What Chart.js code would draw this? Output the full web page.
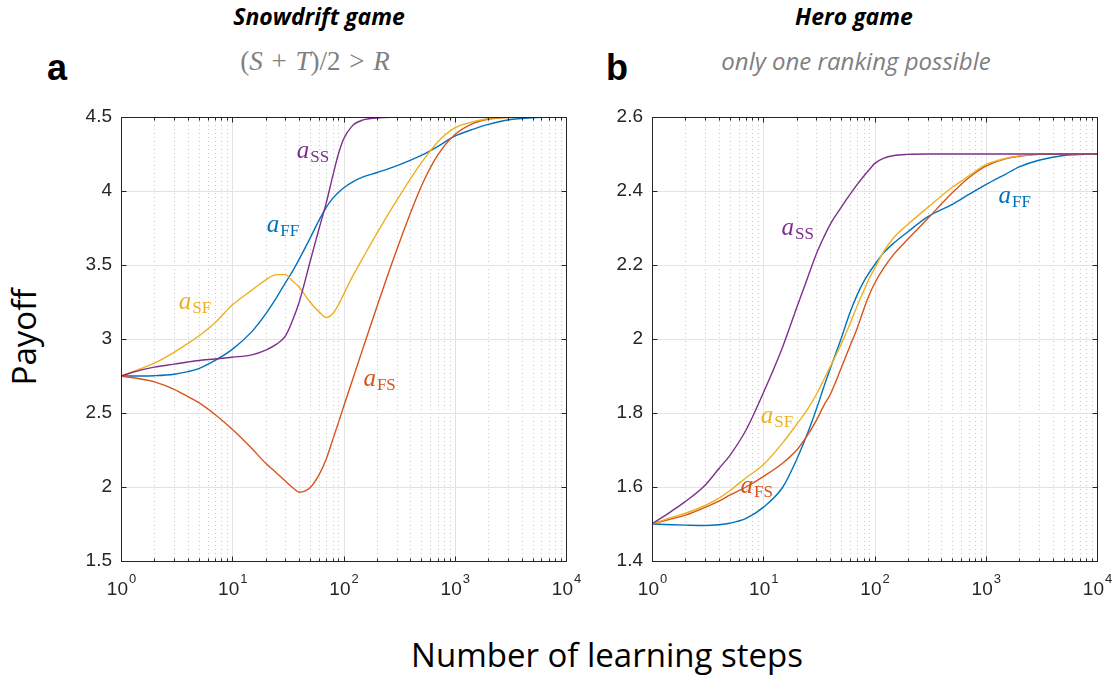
<!DOCTYPE html>
<html>
<head>
<meta charset="utf-8">
<script src="https://cdn.jsdelivr.net/npm/chart.js@4.4.1/dist/chart.umd.min.js"></script>
<style>
  html, body { margin: 0; padding: 0; background: #fff; }
  #page { position: relative; width: 1116px; height: 679px; overflow: hidden; font-family: 'Open Sans', sans-serif; }
  .panel { position: absolute; top: 95px; width: 525px; height: 525px; }
  .txt { position: absolute; white-space: nowrap; line-height: 1; }
  .title { font-weight: 700; font-style: italic; font-size: 23px; color: #000; transform: translateX(-50%); top: 5px; }
  .sub { color: #808080; transform: translateX(-50%); }
  .tag { font-family: 'Liberation Sans', Arial, sans-serif; font-weight: 700; font-size: 36px; top: 50px; color: #000; }
</style>
</head>
<body>
<div id="page">
  <div class="txt title" style="left:319px">Snowdrift game</div>
  <div class="txt title" style="left:854px">Hero game</div>
  <div class="txt sub" style="left:315px; top:48px; font-family:'Liberation Serif', serif; font-size:27px; word-spacing:2px">(<i>S</i> + <i>T</i>)/2 &gt; <i>R</i></div>
  <div class="txt sub" style="left:856px; top:49px; font-style:italic; font-size:24px">only one ranking possible</div>
  <div class="txt tag" style="left:47px">a</div>
  <div class="txt tag" style="left:606px">b</div>
  <div class="txt" style="left:23px; top:337px; font-size:33px; transform:translate(-50%,-50%) rotate(-90deg)">Payoff</div>
  <div class="txt" style="left:607px; top:638px; font-size:33px; transform:translateX(-50%)">Number of learning steps</div>
  <div class="panel" style="left:60px"><canvas id="snowChart" width="525" height="525"></canvas></div>
  <div class="panel" style="left:591px"><canvas id="heroChart" width="525" height="525"></canvas></div>
</div>

<script>
// number of learning steps (x, log scale)
const steps = [1, 1.5, 2, 3, 4, 5, 7, 10, 15, 20, 25, 30, 35, 40, 50, 60, 70, 80, 90, 100,
  120, 150, 200, 300, 500, 700, 1000, 1500, 2000, 3000, 5000, 10000];

// Snowdrift game payoffs
const snowFF = [2.75, 2.75, 2.752, 2.762, 2.78, 2.80, 2.855, 2.93, 3.05, 3.17, 3.28, 3.38, 3.46, 3.54,
  3.68, 3.80, 3.89, 3.95, 3.99, 4.02, 4.06, 4.095, 4.125, 4.17, 4.24, 4.30, 4.37, 4.42, 4.45, 4.48, 4.495, 4.5];
const snowFS = [2.75, 2.73, 2.71, 2.66, 2.61, 2.57, 2.49, 2.39, 2.26, 2.16, 2.095, 2.04, 1.995, 1.965,
  1.995, 2.08, 2.19, 2.32, 2.435, 2.54, 2.72, 2.94, 3.22, 3.6, 4.03, 4.24, 4.38, 4.46, 4.485, 4.497, 4.5, 4.5];
const snowSF = [2.75, 2.80, 2.837, 2.91, 2.97, 3.02, 3.11, 3.23, 3.33, 3.40, 3.435, 3.435, 3.39, 3.35,
  3.25, 3.185, 3.145, 3.17, 3.23, 3.30, 3.42, 3.55, 3.715, 3.935, 4.19, 4.33, 4.426, 4.47, 4.49, 4.497, 4.5, 4.5];
const snowSS = [2.75, 2.79, 2.81, 2.83, 2.845, 2.855, 2.865, 2.877, 2.893, 2.925, 2.965, 3.02, 3.13, 3.25,
  3.52, 3.74, 3.92, 4.10, 4.25, 4.35, 4.44, 4.48, 4.493, 4.498, 4.5, 4.5, 4.5, 4.5, 4.5, 4.5, 4.5, 4.5];

// Hero game payoffs
const heroFF = [1.5, 1.498, 1.497, 1.496, 1.498, 1.502, 1.515, 1.545, 1.6, 1.675, 1.745, 1.81, 1.87, 1.92,
  2.0, 2.07, 2.12, 2.155, 2.18, 2.2, 2.232, 2.26, 2.29, 2.33, 2.364, 2.39, 2.417, 2.445, 2.465, 2.483, 2.496, 2.5];
const heroFS = [1.5, 1.514, 1.524, 1.545, 1.562, 1.578, 1.6, 1.628, 1.665, 1.70, 1.74, 1.78, 1.82, 1.85,
  1.92, 1.98, 2.03, 2.08, 2.12, 2.15, 2.19, 2.23, 2.27, 2.325, 2.395, 2.435, 2.467, 2.487, 2.494, 2.499, 2.5, 2.5];
const heroSF = [1.5, 1.518, 1.529, 1.55, 1.57, 1.59, 1.625, 1.66, 1.72, 1.77, 1.81, 1.85, 1.89, 1.925,
  1.985, 2.04, 2.09, 2.13, 2.165, 2.19, 2.235, 2.275, 2.31, 2.355, 2.41, 2.44, 2.471, 2.488, 2.495, 2.499, 2.5, 2.5];
const heroSS = [1.5, 1.535, 1.561, 1.605, 1.65, 1.685, 1.754, 1.854, 1.98, 2.085, 2.165, 2.23, 2.275, 2.31,
  2.355, 2.39, 2.418, 2.44, 2.458, 2.474, 2.488, 2.496, 2.499, 2.5, 2.5, 2.5, 2.5, 2.5, 2.5, 2.5, 2.5, 2.5];

// axis ticks
const xExponents = [0, 1, 2, 3, 4];
const snowYTicks = [1.5, 2, 2.5, 3, 3.5, 4, 4.5];
const heroYTicks = [1.4, 1.6, 1.8, 2, 2.2, 2.4, 2.6];

const COLORS = { FF: '#0072BD', FS: '#D95319', SF: '#EDB120', SS: '#7E2F8E' };

// where the curve names sit (data coordinates of the 'a' baseline start)
const snowLabels = [
  { sub: 'SS', x: 38, y: 4.22 },
  { sub: 'FF', x: 20.4, y: 3.72 },
  { sub: 'SF', x: 3.3, y: 3.2 },
  { sub: 'FS', x: 151, y: 2.685 }
];
const heroLabels = [
  { sub: 'SS', x: 14.6, y: 2.282 },
  { sub: 'FF', x: 1300, y: 2.367 },
  { sub: 'SF', x: 9.5, y: 1.774 },
  { sub: 'FS', x: 6.25, y: 1.583 }
];

const INK = '#262626';

const gridPlugin = {
  id: 'matlabGrid',
  beforeDatasetsDraw(chart) {
    const { ctx, chartArea: a, scales: { x, y } } = chart;
    const yTicks = chart.options.plugins.matlabGrid.yTicks;
    ctx.save();
    ctx.lineWidth = 1;
    // minor vertical dotted lines
    ctx.strokeStyle = '#c8c8c8';
    ctx.setLineDash([1, 3]);
    for (let d = 0; d < 4; d++) {
      for (let m = 2; m <= 9; m++) {
        const px = Math.round(x.getPixelForValue(m * Math.pow(10, d))) + 0.5;
        ctx.beginPath(); ctx.moveTo(px, a.top); ctx.lineTo(px, a.bottom); ctx.stroke();
      }
    }
    ctx.setLineDash([]);
    ctx.strokeStyle = '#e3e3e3';
    xExponents.forEach(e => {
      const px = Math.round(x.getPixelForValue(Math.pow(10, e))) + 0.5;
      ctx.beginPath(); ctx.moveTo(px, a.top); ctx.lineTo(px, a.bottom); ctx.stroke();
    });
    yTicks.forEach(v => {
      const py = Math.round(y.getPixelForValue(v)) + 0.5;
      ctx.beginPath(); ctx.moveTo(a.left, py); ctx.lineTo(a.right, py); ctx.stroke();
    });
    ctx.restore();
  },
  afterDatasetsDraw(chart) {
    const { ctx, chartArea: a, scales: { x, y } } = chart;
    const opts = chart.options.plugins.matlabGrid;
    ctx.save();
    ctx.strokeStyle = INK;
    ctx.lineWidth = 1;
    const L = Math.round(a.left) + 0.5, R = Math.round(a.right) + 0.5;
    const T = Math.round(a.top) + 0.5, B = Math.round(a.bottom) + 0.5;
    ctx.strokeRect(L, T, R - L, B - T);

    // inward tick marks
    ctx.beginPath();
    for (let d = 0; d < 4; d++) {
      for (let m = 2; m <= 9; m++) {
        const px = Math.round(x.getPixelForValue(m * Math.pow(10, d))) + 0.5;
        ctx.moveTo(px, B); ctx.lineTo(px, B - 3);
        ctx.moveTo(px, T); ctx.lineTo(px, T + 3);
      }
    }
    xExponents.forEach(e => {
      const px = Math.round(x.getPixelForValue(Math.pow(10, e))) + 0.5;
      ctx.moveTo(px, B); ctx.lineTo(px, B - 5);
      ctx.moveTo(px, T); ctx.lineTo(px, T + 5);
    });
    opts.yTicks.forEach(v => {
      const py = Math.round(y.getPixelForValue(v)) + 0.5;
      ctx.moveTo(L, py); ctx.lineTo(L + 5, py);
      ctx.moveTo(R, py); ctx.lineTo(R - 5, py);
    });
    ctx.stroke();

    // x tick labels: 10 with raised exponent
    ctx.fillStyle = INK;
    ctx.textBaseline = 'alphabetic';
    xExponents.forEach(e => {
      const px = x.getPixelForValue(Math.pow(10, e));
      ctx.font = '19px "Liberation Sans", Arial, sans-serif';
      const wBase = ctx.measureText('10').width;
      ctx.font = '13px "Liberation Sans", Arial, sans-serif';
      const wExp = ctx.measureText(String(e)).width;
      const left = px - (wBase + wExp) / 2;
      ctx.textAlign = 'left';
      ctx.font = '19px "Liberation Sans", Arial, sans-serif';
      ctx.fillText('10', left, a.bottom + 34);
      ctx.font = '13px "Liberation Sans", Arial, sans-serif';
      ctx.fillText(String(e), left + wBase + 1, a.bottom + 22);
    });

    // curve names
    opts.labels.forEach(l => {
      const px = x.getPixelForValue(l.x);
      const py = y.getPixelForValue(l.y);
      ctx.fillStyle = COLORS[l.sub];
      ctx.textAlign = 'left';
      ctx.font = 'italic 25px "Liberation Serif", serif';
      ctx.fillText('a', px, py);
      const w = ctx.measureText('a').width;
      ctx.font = '17px "Liberation Serif", serif';
      ctx.fillText(l.sub, px + w + 1, py + 4);
    });
    ctx.restore();
  }
};

function makeChart(id, series, yTicks, labels) {
  const order = ['SS', 'SF', 'FS', 'FF'];
  const datasets = order.map((k, i) => ({
    label: 'a' + k,
    data: steps.map((s, j) => ({ x: s, y: series[k][j] })),
    borderColor: COLORS[k],
    borderWidth: 1.4,
    pointRadius: 0,
    fill: false,
    cubicInterpolationMode: 'monotone',
    order: i
  }));
  return new Chart(document.getElementById(id), {
    type: 'line',
    data: { datasets },
    plugins: [gridPlugin],
    options: {
      responsive: false,
      animation: false,
      devicePixelRatio: 1,
      layout: { padding: { top: 22, right: 19, bottom: 0, left: 0 } },
      plugins: {
        legend: { display: false },
        tooltip: { enabled: false },
        matlabGrid: { yTicks, labels }
      },
      scales: {
        x: {
          type: 'logarithmic',
          min: 1,
          max: 10000,
          grid: { display: false, drawTicks: false },
          border: { display: false },
          ticks: { display: false },
          afterFit: s => { s.height = 59; }
        },
        y: {
          type: 'linear',
          min: yTicks[0],
          max: yTicks[yTicks.length - 1],
          grid: { display: false, drawTicks: false },
          border: { display: false },
          afterBuildTicks: s => { s.ticks = yTicks.map(v => ({ value: v })); },
          ticks: {
            color: INK,
            padding: 9,
            font: { family: '"Liberation Sans", Arial, sans-serif', size: 19 },
            callback: v => String(+(+v).toFixed(1))
          },
          afterFit: s => { s.width = 61; }
        }
      }
    }
  });
}

makeChart('snowChart', { FF: snowFF, FS: snowFS, SF: snowSF, SS: snowSS }, snowYTicks, snowLabels);
makeChart('heroChart', { FF: heroFF, FS: heroFS, SF: heroSF, SS: heroSS }, heroYTicks, heroLabels);
</script>
</body>
</html>
